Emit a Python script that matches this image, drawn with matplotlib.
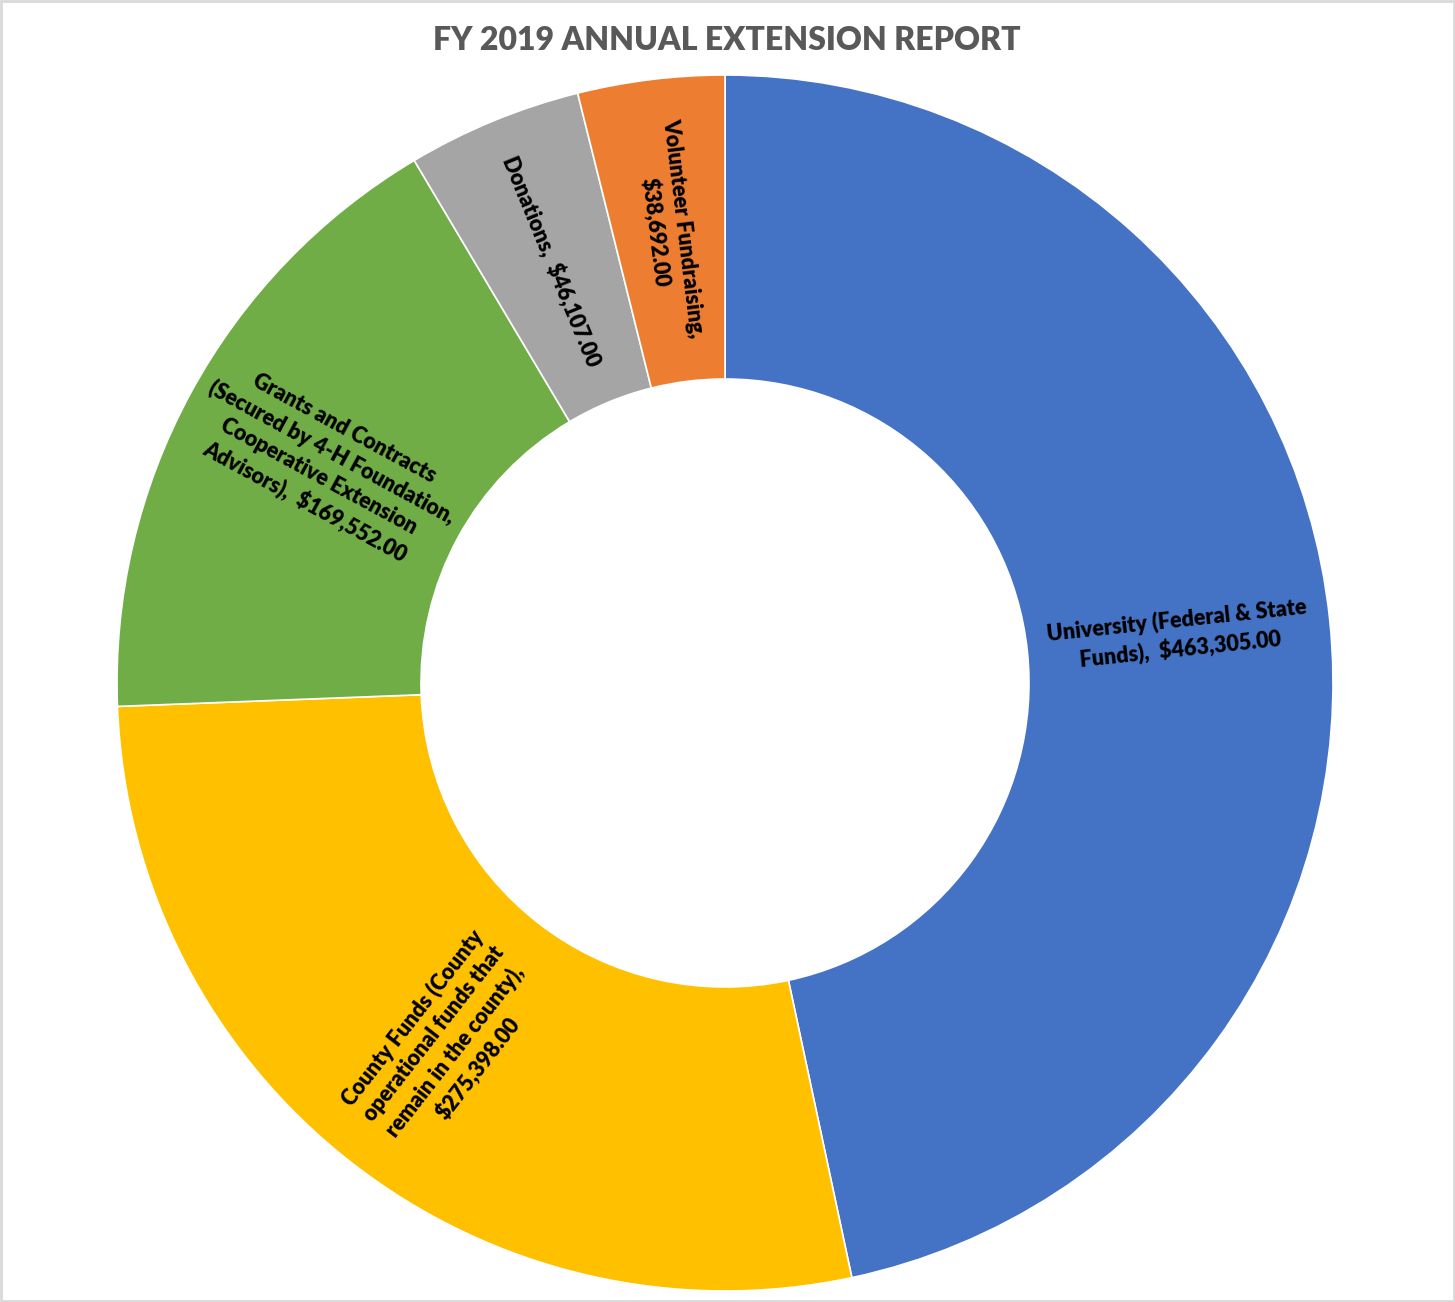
import matplotlib
matplotlib.use("Agg")
import matplotlib.pyplot as plt
from matplotlib.patches import Rectangle
import numpy as np

title = "FY 2019 ANNUAL EXTENSION REPORT"
categories = [
    "University (Federal & State Funds)",
    "County Funds (County operational funds that remain in the county)",
    "Grants and Contracts (Secured by 4-H Foundation, Cooperative Extension Advisors)",
    "Donations",
    "Volunteer Fundraising",
]
values = [463305.00, 275398.00, 169552.00, 46107.00, 38692.00]
colors = ["#4472C4", "#FFC000", "#70AD47", "#A5A5A5", "#ED7D31"]
# displayed label text (with the line breaks seen in the chart)
label_texts = [
    "University (Federal & State\nFunds),  ${v}",
    "County Funds (County\noperational funds that\nremain in the county),\n${v}",
    "Grants and Contracts\n(Secured by 4-H Foundation,\nCooperative Extension\nAdvisors),  ${v}",
    "Donations,  ${v}",
    "Volunteer Fundraising,\n${v}",
]

plt.rcParams['font.family'] = ['Lato', 'DejaVu Sans']

W, H = 1455, 1302
fig = plt.figure(figsize=(W / 100, H / 100), dpi=100)
fig.patch.set_facecolor("white")

cx, cy, R = 725, 683, 608
ax = fig.add_axes([(cx - R) / W, (H - cy - R) / H, 2 * R / W, 2 * R / H])
wedges, _ = ax.pie(values, colors=colors, startangle=90, counterclock=False,
                   radius=1.0,
                   wedgeprops=dict(width=0.5, edgecolor="white", linewidth=1.2))
ax.set_xlim(-1, 1)
ax.set_ylim(-1, 1)
ax.set_aspect("equal")
ax.axis("off")

for w, tmpl, v in zip(wedges, label_texts, values):
    ang = 0.5 * (w.theta1 + w.theta2)
    r = 0.75
    x = r * np.cos(np.deg2rad(ang))
    y = r * np.sin(np.deg2rad(ang))
    rot = ((ang + 90) % 180) - 90
    ax.text(x, y, tmpl.format(v=f"{v:,.2f}"), ha="center", va="center",
            multialignment="center", rotation=rot, rotation_mode="anchor",
            fontsize=15.5, fontweight="heavy", color="black", linespacing=1.32)

fig.text(727 / W, 1 - 41 / H, title, ha="center", va="center",
         fontsize=23, fontweight="heavy", color="#595959")

fig.patches.append(Rectangle((0.0008, 0.0008), 0.9984, 0.9984, transform=fig.transFigure,
                             fill=False, edgecolor="#D9D9D9", linewidth=2))

fig.savefig("out.png", dpi=100, facecolor="white")
